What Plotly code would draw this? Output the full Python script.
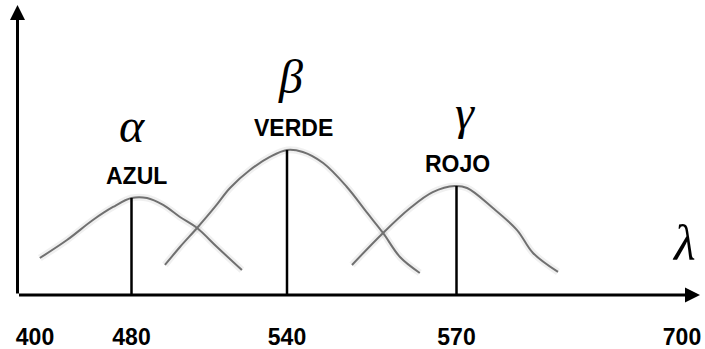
import numpy as np
import plotly.graph_objects as go

# ---------------- data ----------------
TICK_WAVELENGTHS = [400, 480, 540, 570, 700]
TICK_LABELS = ["400", "480", "540", "570", "700"]

CONE_NAMES = ["AZUL", "VERDE", "ROJO"]
CONE_SYMBOLS = ["α", "β", "γ"]
PEAK_WAVELENGTHS = [480, 540, 570]
PEAK_RESPONSE = [0.669, 1.0, 0.752]

AZUL_WL = [404, 426.5, 448, 464.7, 480, 486, 492.2, 498.7, 505.3, 513, 522.6]
AZUL_RESP = [0.255, 0.379, 0.517, 0.607, 0.669, 0.669, 0.621, 0.538, 0.462, 0.331, 0.172]

VERDE_WL = [492.9, 498.7, 505.3, 512.2, 518, 525.7, 533.4, 540, 542.8, 546.4, 550.6, 554.2, 557, 560, 563.5]
VERDE_RESP = [0.207, 0.331, 0.462, 0.607, 0.738, 0.862, 0.952, 1.0, 0.986, 0.91, 0.745, 0.566, 0.428, 0.262, 0.152]

ROJO_WL = [551.5, 557, 561.8, 565.8, 569.7, 576.1, 591, 604.9, 614.1, 628.5]
ROJO_RESP = [0.207, 0.428, 0.6, 0.71, 0.752, 0.738, 0.6, 0.448, 0.29, 0.159]

AXIS_SYMBOL = "λ"

# ---------------- schematic (non-linear) wavelength scale ----------------
W, H = 705, 349
TICK_POS = [35, 131.5, 287, 456.5, 682]      # screen position of each tick
AXIS_ORIGIN = 17.5
AXIS_TIP = 700
PX_PER_UNIT = 145.0
BOTTOM_MARGIN = 54
PLOT_H = H - BOTTOM_MARGIN


def warp(wl):
    return np.interp(np.asarray(wl, dtype=float), TICK_WAVELENGTHS, TICK_POS)


CURVE_COLOR = "#707070"
fig = go.Figure()

curves = [(AZUL_WL, AZUL_RESP), (VERDE_WL, VERDE_RESP), (ROJO_WL, ROJO_RESP)]
for wl, resp in curves:
    fig.add_trace(go.Scatter(x=warp(wl), y=resp, mode="lines",
                             line=dict(color="rgba(0,0,0,0.06)", width=7, shape="spline"),
                             hoverinfo="skip", showlegend=False))
for (wl, resp), name in zip(curves, CONE_NAMES):
    fig.add_trace(go.Scatter(x=warp(wl), y=resp, mode="lines", name=name,
                             line=dict(color=CURVE_COLOR, width=2, shape="spline", smoothing=1.0),
                             showlegend=False))

# vertical peak lines
for wl, r in zip(PEAK_WAVELENGTHS, PEAK_RESPONSE):
    x = float(warp(wl))
    fig.add_trace(go.Scatter(x=[x, x], y=[0, r], mode="lines",
                             line=dict(color="black", width=2.5), showlegend=False,
                             hoverinfo="skip"))

annotations = []
# axes with arrowheads
annotations.append(dict(x=AXIS_TIP, y=0, ax=AXIS_ORIGIN, ay=0, xref="x", yref="y",
                        axref="x", ayref="y", text="", showarrow=True,
                        arrowhead=2, arrowsize=1, arrowwidth=3, arrowcolor="black"))
annotations.append(dict(x=AXIS_ORIGIN, y=(PLOT_H - 5) / PX_PER_UNIT, ax=AXIS_ORIGIN, ay=0,
                        xref="x", yref="y", axref="x", ayref="y", text="", showarrow=True,
                        arrowhead=2, arrowsize=1, arrowwidth=3, arrowcolor="black"))

label_font = dict(family="Liberation Sans, Arial", size=23, color="black", weight="bold")
greek_font = dict(family="Liberation Serif, Times New Roman", size=48, color="black")
label_shift = [(5, 22), (6, 22), (1, 22)]
greek_shift = [(0, 73), (3, 74), (8, 73)]
for i, (wl, r) in enumerate(zip(PEAK_WAVELENGTHS, PEAK_RESPONSE)):
    x = float(warp(wl))
    annotations.append(dict(x=x, y=r, xref="x", yref="y", text=CONE_NAMES[i],
                            showarrow=False, font=label_font, xshift=label_shift[i][0],
                            yshift=label_shift[i][1], yanchor="middle"))
    annotations.append(dict(x=x, y=r, xref="x", yref="y", text="<i>" + CONE_SYMBOLS[i] + "</i>",
                            showarrow=False, font=greek_font, xshift=greek_shift[i][0],
                            yshift=greek_shift[i][1], yanchor="middle"))

annotations.append(dict(x=684, y=(PLOT_H - 243) / PX_PER_UNIT, xref="x", yref="y",
                        text="<i>" + AXIS_SYMBOL + "</i>", showarrow=False,
                        font=dict(family="Liberation Serif, Times New Roman", size=50, color="black"),
                        yanchor="middle"))

fig.update_layout(
    width=W, height=H,
    margin=dict(l=0, r=0, t=0, b=BOTTOM_MARGIN, pad=0),
    paper_bgcolor="white", plot_bgcolor="white",
    annotations=annotations,
    xaxis=dict(range=[0, W], showgrid=False, zeroline=False, showline=False,
               tickvals=warp(TICK_WAVELENGTHS), ticktext=TICK_LABELS, ticks="",
               tickfont=dict(family="Liberation Sans, Arial", size=23, color="black", weight="bold"),
               ticklabelstandoff=26, fixedrange=True),
    yaxis=dict(range=[0, PLOT_H / PX_PER_UNIT], showgrid=False, zeroline=False,
               showline=False, showticklabels=False, ticks="", fixedrange=True),
)

fig.write_html("out.html", config={"displayModeBar": False},
               post_script="document.body.style.margin='0';document.body.style.overflow='hidden';")
